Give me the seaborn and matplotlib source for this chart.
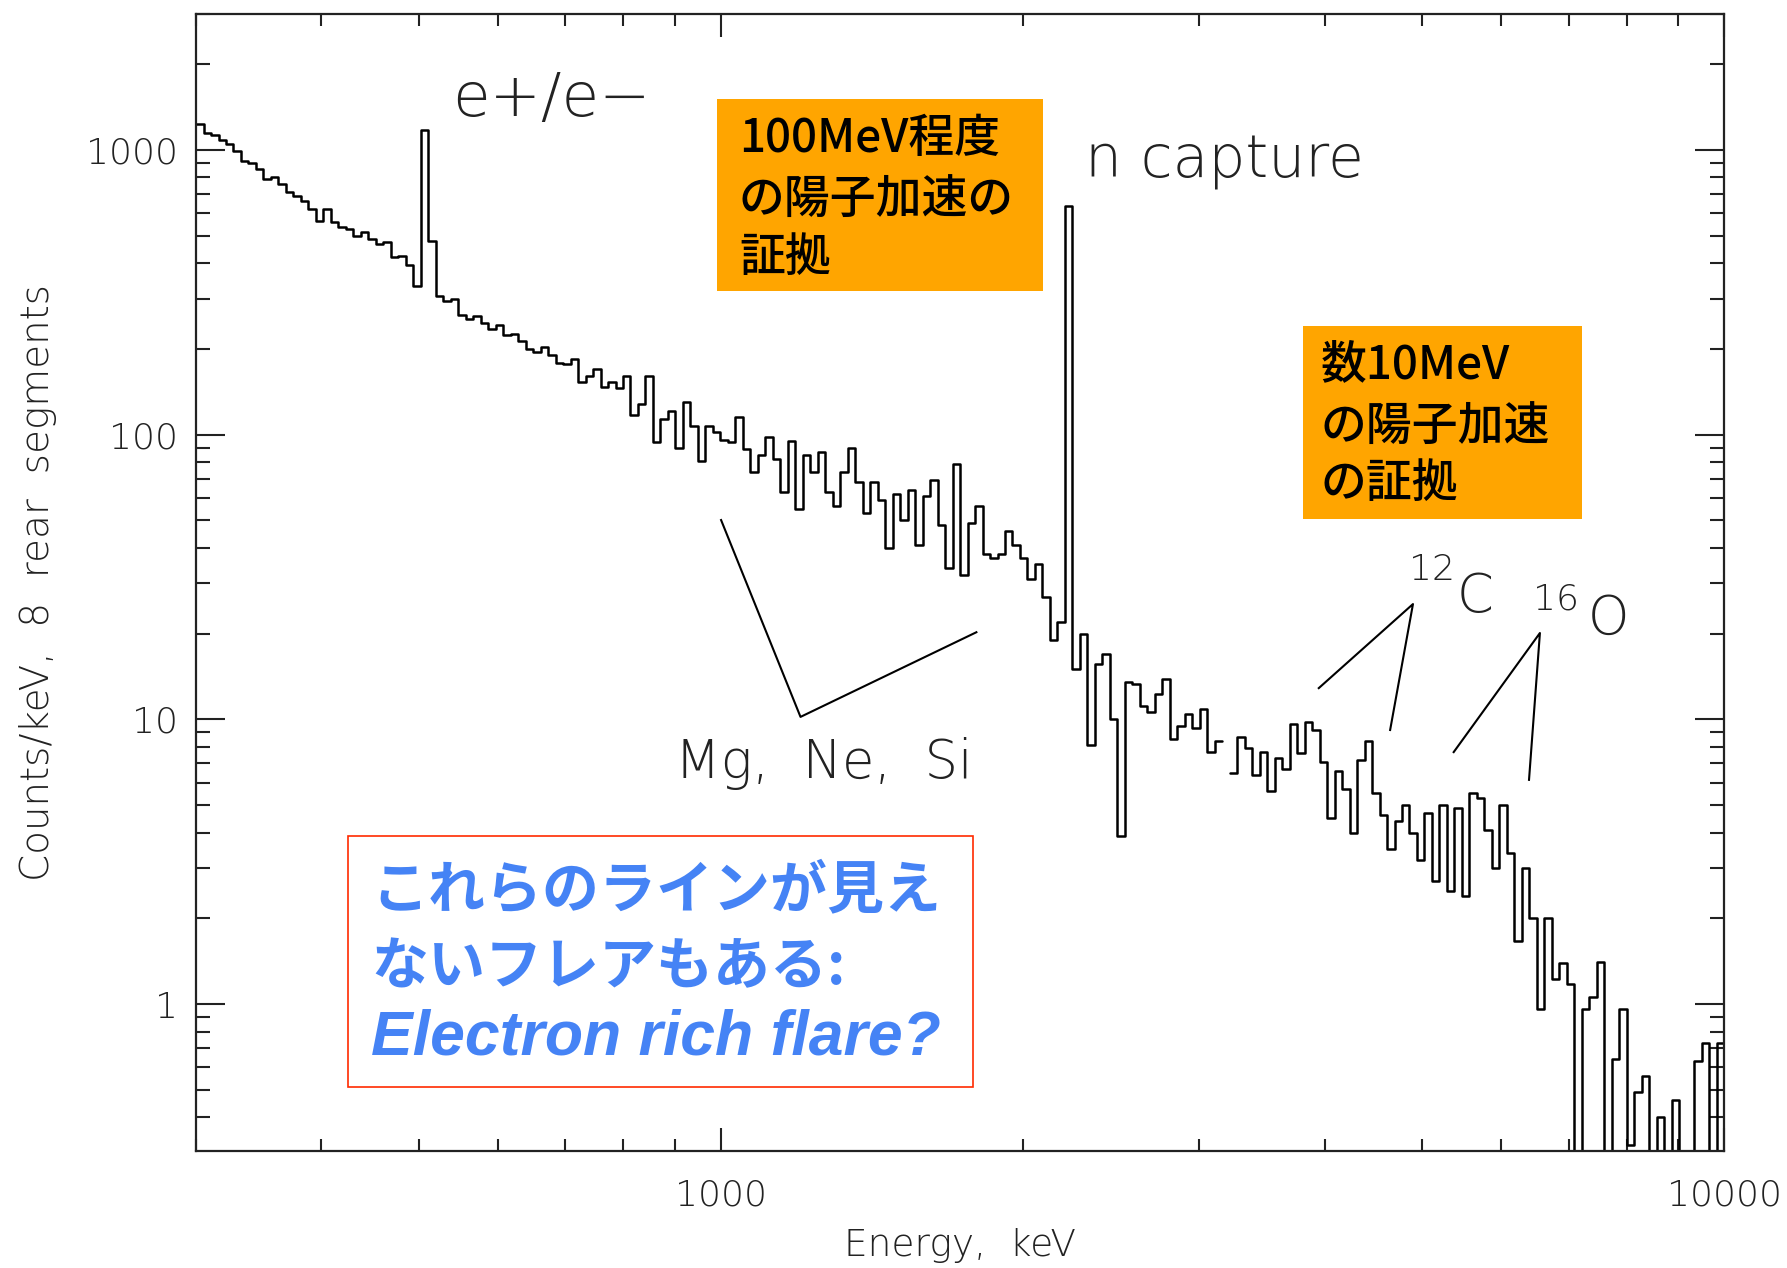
import numpy as np
import pandas as pd
import matplotlib
matplotlib.use("Agg")
import matplotlib.pyplot as plt
from matplotlib import font_manager as fm
from matplotlib.patches import Rectangle
from matplotlib.ticker import LogLocator, FuncFormatter, NullFormatter
import seaborn as sns

# ---------------------------------------------------------------------------
# Gamma-ray count spectrum (counts/keV, 8 rear segments)
# 204 logarithmic energy bins between 300 keV and 10 MeV
# ---------------------------------------------------------------------------
energy_min_kev = 300
energy_max_kev = 10000
n_bins = 204

# 300 keV - ~470 keV, including the 511 keV annihilation line
counts_low = [1228, 1143, 1125, 1080, 1045, 990, 913, 896, 855, 788, 800, 756,
              709, 687, 661, 619, 563, 619, 556, 534, 526, 498, 514, 485,
              466, 473, 419, 424, 393, 332, 1170, 480, 307, 294, 300, 262]
# ~470 keV - 1 MeV
counts_sub_mev = [254, 260, 246, 234, 242, 223, 225, 213, 199, 195, 203, 191,
                  178, 177, 184, 153, 160, 170, 147, 153, 146, 160, 117, 128,
                  160, 94, 113, 121, 90, 130, 107, 81, 107, 102]
# 1 MeV - ~1.85 MeV (Mg, Ne, Si de-excitation region)
counts_mev = [96, 94, 115, 89, 74, 85, 98, 82, 63, 95, 55, 85, 74, 87, 63, 56,
              74, 90, 68, 53, 68, 59, 40, 62, 50, 64, 41, 61, 69, 48, 34, 79,
              32, 49, 56]
# ~1.85 MeV - ~3.2 MeV, including the 2.223 MeV neutron-capture line
counts_capture = [38, 37, 38, 46, 41, 37, 31, 35, 27, 19, 22, 633, 15, 20, 8.1,
                  15.7, 17, 10, 3.9, 13.5, 13.3, 11.1, 10.6, 12.3, 13.9, 8.5,
                  9.5, 10.4, 9.3, 10.9, 7.7, 8.4, np.nan, 6.5]
# ~3.2 MeV - ~5.5 MeV (12C line region)
counts_carbon = [8.7, 7.9, 6.4, 7.7, 5.6, 7.3, 6.7, 9.6, 7.6, 9.8, 9.2, 7.1,
                 4.5, 6.6, 5.7, 4.0, 7.2, 8.4, 5.5, 4.6, 3.5, 4.4, 5.0, 4.0,
                 3.2, 4.7, 2.7, 5.0, 2.5, 4.9, 2.4, 5.5, 5.3, 4.1]
# ~5.5 MeV - 10 MeV (16O line region and high-energy tail)
counts_high = [3.0, 5.0, 3.4, 1.66, 3.0, 2.0, 0.96, 2.0, 1.23, 1.39, 1.18, 0.1,
               0.96, 1.06, 1.41, 0.1, 0.64, 0.96, 0.32, 0.49, 0.56, 0.1, 0.40,
               0.1, 0.46, 0.1, 0.1, 0.63, 0.73, 0.1, 0.73]

counts = np.array(counts_low + counts_sub_mev + counts_mev + counts_capture
                  + counts_carbon + counts_high, dtype=float)
edges = np.geomspace(energy_min_kev, energy_max_kev, n_bins + 1)

x_ticks_labeled = [1000, 10000]
y_ticks_labeled = [1, 10, 100, 1000]

# Build a long table of step vertices; each run of valid bins is one unit
rows = []
seg = 0
i = 0
while i < n_bins:
    if np.isnan(counts[i]):
        i += 1
        continue
    j = i
    while j < n_bins and not np.isnan(counts[j]):
        rows.append((seg, edges[j], counts[j], j))
        j += 1
    rows.append((seg, edges[j], counts[j - 1], j))
    seg += 1
    i = j
spec = pd.DataFrame(rows, columns=["segment", "energy", "counts", "order"])

# ---------------------------------------------------------------------------
sns.set_style("ticks")


def pick_light_family(candidates):
    for fam in candidates:
        for f in fm.fontManager.ttflist:
            if f.name != fam:
                continue
            w = f.weight
            if isinstance(w, str):
                w = fm.weight_dict.get(w, 400)
            if w <= 300:
                return fam, w
    return candidates[0], 400


THIN_FAMILY, THIN_WEIGHT = pick_light_family(
    ["DejaVu Sans", "Lato", "Open Sans", "Roboto", "Noto Sans", "Inter"])
plt.rcParams["font.family"] = [THIN_FAMILY, "DejaVu Sans"]
plt.rcParams["font.weight"] = THIN_WEIGHT

fig = plt.figure(figsize=(17.87, 12.68), dpi=100)
ax = fig.add_axes([0.1097, 0.0923, 0.8551, 0.8967])
ax.set_xscale("log")
ax.set_yscale("log")

sns.lineplot(data=spec, x="energy", y="counts", units="segment",
             estimator=None, sort=False, drawstyle="steps-post",
             color="black", linewidth=1.8, ax=ax, legend=False)

ax.set_xlim(energy_min_kev, energy_max_kev)
ax.set_ylim(0.305, 3000)

ink = "#222222"
thin = dict(family=[THIN_FAMILY, "DejaVu Sans"], fontweight=THIN_WEIGHT, color=ink)

for s in ax.spines.values():
    s.set_linewidth(1.6)
    s.set_color(ink)

ax.xaxis.set_major_locator(LogLocator(base=10, subs=(1.0,)))
ax.xaxis.set_minor_locator(LogLocator(base=10, subs=np.arange(2, 10)))
ax.yaxis.set_major_locator(LogLocator(base=10, subs=(1.0,)))
ax.yaxis.set_minor_locator(LogLocator(base=10, subs=np.arange(2, 10)))
ax.xaxis.set_minor_formatter(NullFormatter())
ax.yaxis.set_minor_formatter(NullFormatter())
ax.xaxis.set_major_formatter(FuncFormatter(
    lambda v, p: f"{v:.0f}" if round(v) in x_ticks_labeled else ""))
ax.yaxis.set_major_formatter(FuncFormatter(
    lambda v, p: f"{v:.0f}" if round(v) in y_ticks_labeled else ""))

ax.tick_params(which="both", direction="in", top=True, right=True,
               colors=ink, width=1.5)
ax.tick_params(axis="x", which="major", length=16.5, pad=20, labelsize=26)
ax.tick_params(axis="x", which="minor", length=8.5)
ax.tick_params(axis="y", which="major", length=21, pad=13, labelsize=26)
ax.tick_params(axis="y", which="minor", length=10)
for lab in ax.get_xticklabels() + ax.get_yticklabels():
    lab.set_fontweight(THIN_WEIGHT)

ax.set_xlabel("Energy,  keV", fontsize=27, **thin)
ax.set_ylabel("Counts/keV,  8  rear  segments", fontsize=28, **thin)
ax.xaxis.set_label_coords(0.5, -0.068)
ax.yaxis.set_label_coords(-0.091, 0.5)

# Line identifications
ax.text(540, 1310, "e+/e\u2212", fontsize=44, **thin)
ax.text(2308, 800, "n capture", fontsize=42, **thin)
ax.text(901, 6.2, "Mg,  Ne,  Si", fontsize=38, **thin)
ax.text(4853, 30.8, "12", fontsize=26, **thin)
ax.text(5418, 23.8, "C", fontsize=38, **thin)
ax.text(6449, 24.4, "16", fontsize=26, **thin)
ax.text(7315, 19.9, "O", fontsize=38, **thin)

pointer = dict(color="black", linewidth=1.5, solid_capstyle="butt")
ax.plot([1000, 1201, 1802], [50.5, 10.2, 20.3], **pointer)
ax.plot([3938, 4897, 4645], [12.8, 25.4, 9.1], **pointer)
ax.plot([5369, 6553, 6390], [7.62, 20.1, 6.08], **pointer)

# Call-out boxes (figure coordinates)
W, H = 1787.0, 1268.0
jp = ["Noto Sans CJK JP", "DejaVu Sans"]


def fig_box(x0, y0, x1, y1, **kw):
    fig.add_artist(Rectangle((x0 / W, 1 - y1 / H), (x1 - x0) / W, (y1 - y0) / H,
                             transform=fig.transFigure, **kw))


def fig_line(x, y, s, **kw):
    fig.text(x / W, 1 - y / H, s, va="center", ha="left", **kw)


orange = "#FFA500"
fig_box(717, 99, 1043, 291, facecolor=orange, edgecolor="none", zorder=3)
for y, s in zip([138, 199, 257], ["100MeV程度", "の陽子加速の", "証拠"]):
    fig_line(739, y, s, family=jp, fontsize=33, fontweight="medium",
             color="black", zorder=4)

fig_box(1303, 326, 1582, 519, facecolor=orange, edgecolor="none", zorder=3)
for y, s in zip([365, 426, 483], ["数10MeV", "の陽子加速", "の証拠"]):
    fig_line(1321, y, s, family=jp, fontsize=33, fontweight="medium",
             color="black", zorder=4)

blue = "#4583F5"
fig_box(348, 836, 973, 1087, facecolor="white", edgecolor="#FF2A00",
        linewidth=1.2, zorder=3)
fig_line(371, 890, "これらのラインが見え", family=["Noto Sans CJK JP"],
         fontsize=41, fontweight="bold", color=blue, zorder=4)
fig_line(371, 967, "ないフレアもある:", family=["Noto Sans CJK JP"],
         fontsize=41, fontweight="bold", color=blue, zorder=4)
fig_line(371, 1038, "Electron rich flare?", family=["Liberation Sans"],
         fontsize=45, fontweight="bold", style="italic", color=blue, zorder=4)

fig.savefig("out.png", dpi=100)
